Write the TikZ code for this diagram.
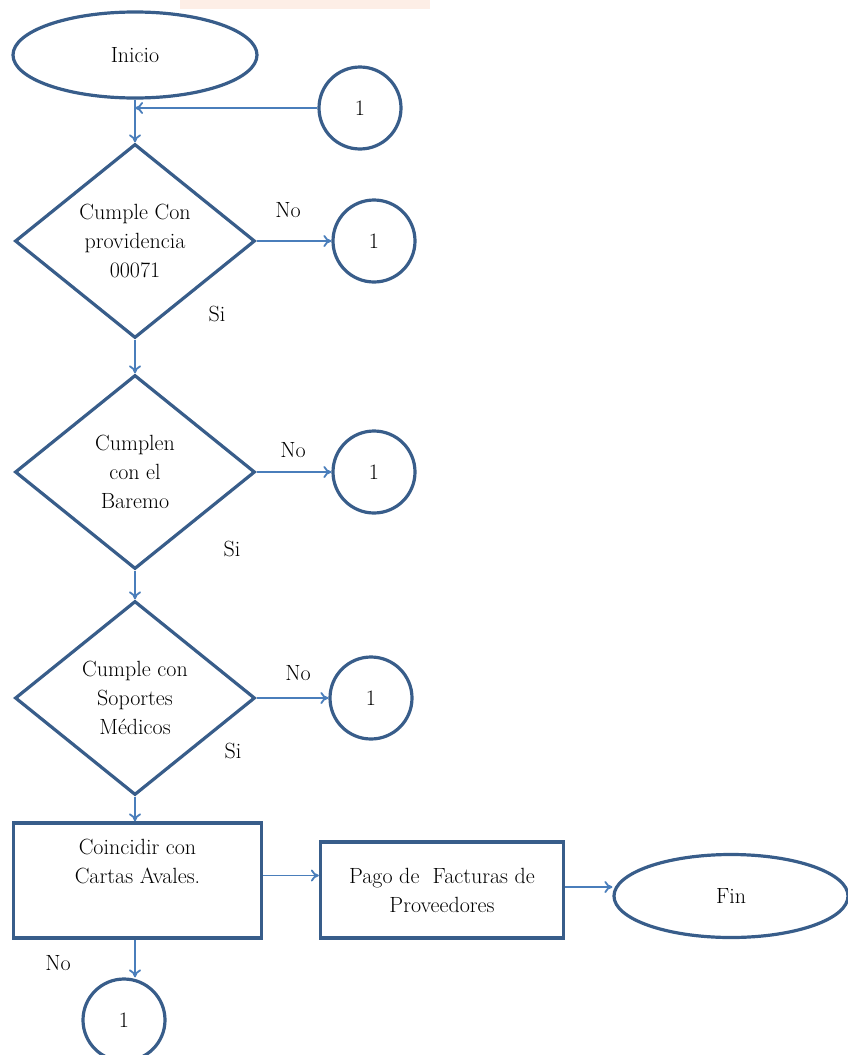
\documentclass[tikz,border=0pt]{standalone}
\usepackage{fontspec}
\usetikzlibrary{shapes.geometric,arrows.meta}
\definecolor{shapeline}{HTML}{385D8A}
\definecolor{linkline}{HTML}{4A7EBB}
\definecolor{markband}{HTML}{FBE3D6}

\begin{document}
\begin{tikzpicture}[x=1pt,y=-1pt,font=\rmfamily\fontsize{22}{29}\selectfont,
  term/.style={draw=shapeline,line width=3.2pt,ellipse,inner sep=0pt,minimum width=244pt,minimum height=86pt},
  decide/.style={draw=shapeline,line width=3.2pt,diamond,inner sep=0pt,minimum width=240pt,minimum height=194pt,align=center},
  task/.style={draw=shapeline,line width=3.2pt,rectangle,inner sep=0pt,align=center},
  conn/.style={draw=shapeline,line width=3.2pt,circle,inner sep=0pt,minimum size=82pt},
  link/.style={draw=linkline,line width=1.8pt,-{To[length=8pt,width=12pt]}}]
\useasboundingbox (0,0) rectangle (848,1055);
\fill[markband,opacity=0.6] (180,0) rectangle (430,9);
\node[term] (ini) at (135,55) {Inicio};
\node[conn] (c0) at (360,108) {1};
\coordinate (join) at (135,108);
\node[decide] (d1) at (135,241) {Cumple Con\\providencia\\00071};
\node[conn] (c1) at (374,241) {1};
\node (no1) at (288,210) {No};
\node (si1) at (217,314) {Si};
\node[decide] (d2) at (135,472) {Cumplen\\con el\\Baremo};
\node[conn] (c2) at (374,472) {1};
\node (no2) at (293,450) {No};
\node (si2) at (232,549) {Si};
\node[decide] (d3) at (135,698) {Cumple con\\Soportes\\Médicos};
\node[conn] (c3) at (371,698) {1};
\node (no3) at (298,673) {No};
\node (si3) at (233,751) {Si};
\node[task,minimum width=248pt,minimum height=115pt] (coin) at (137.5,880.5) {Coincidir con\\Cartas Avales.\\\strut};
\node[task,minimum width=243pt,minimum height=96pt] (pago) at (442,890) {Pago de\ \ Facturas de\\Proveedores};
\node[term,minimum width=234pt,minimum height=83pt] (fin) at (731,896) {Fin};
\node[conn] (c4) at (124,1020) {1};
\node (no4) at (58,963) {No};
% conectores
\draw[link] (c0.west) -- (join);
\draw[link] (ini.south) -- (d1.north);
\draw[link] (d1.east) -- (c1.west);
\draw[link] (d1.south) -- (d2.north);
\draw[link] (d2.east) -- (c2.west);
\draw[link] (d2.south) -- (d3.north);
\draw[link] (d3.east) -- (c3.west);
\draw[link] (d3.south) -- (coin.north -| d3.south);
\draw[link] ([yshift=5pt]coin.east) -- ([yshift=5pt]coin.east -| pago.west);
\draw[link] ([yshift=3pt]pago.east) -- ([yshift=3pt]pago.east -| fin.west);
\draw[link] (coin.south -| d3.south) -- (d3.south |- c4.north);
\end{tikzpicture}
\end{document}
